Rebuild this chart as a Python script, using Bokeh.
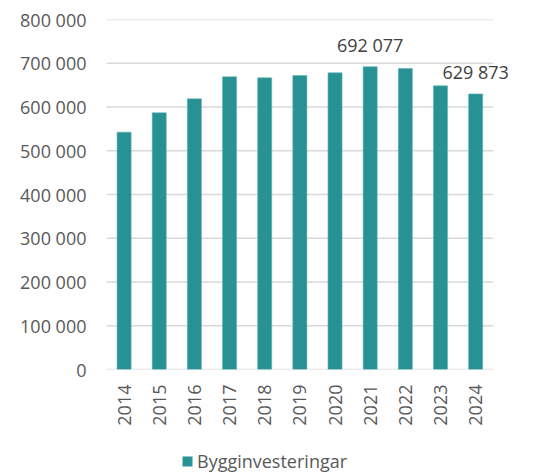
from bokeh.plotting import figure
from bokeh.layouts import column
from bokeh.models import (ColumnDataSource, Range1d, FixedTicker, Legend, LegendItem,
                          CustomJSTickFormatter, LabelSet)
from bokeh.core.properties import value
from bokeh.embed import file_html
from bokeh.resources import INLINE
import math

years = ["2014", "2015", "2016", "2017", "2018", "2019", "2020", "2021", "2022", "2023", "2024"]
values = [542400, 586700, 618700, 669000, 666700, 672000, 678100, 692077, 688000, 648400, 629873]
label_years = ["2021", "2024"]
label_texts = ["692 077", "629 873"]
series_name = "Bygginvesteringar"
y_ticks = [0, 100000, 200000, 300000, 400000, 500000, 600000, 700000, 800000]

FONT = "Open Sans"
BAR = "#289193"
BAR_EDGE = "#5fb3b5"
GRID = "#d9d9d9"
TXT = "#595959"

n = len(years)
xs = list(range(n))
# frame extends past the last category so the right-hand data label is not clipped
p = figure(x_range=Range1d(-0.5, n + 0.56), y_range=Range1d(0, 800000), width=536, height=438,
           output_backend="svg", toolbar_location=None,
           min_border_left=106, min_border_right=6, min_border_top=19, min_border_bottom=69)
p.outline_line_color = None
p.xgrid.grid_line_color = None
p.ygrid.grid_line_color = None

# horizontal gridlines across the category span only
p.segment(x0=[-0.5] * len(y_ticks), x1=[n - 0.5] * len(y_ticks), y0=y_ticks, y1=y_ticks,
          line_color=GRID, line_width=1.5)

src = ColumnDataSource(dict(x=xs, top=values))
p.vbar(x="x", top="top", width=0.4, source=src, fill_color=BAR, line_color=BAR_EDGE, line_width=0.6)

lsrc = ColumnDataSource(dict(x=[years.index(y) for y in label_years],
                             y=[values[years.index(y)] for y in label_years], t=label_texts))
labels = LabelSet(x="x", y="y", text="t", source=lsrc, text_align="center", text_baseline="middle",
                  y_offset=21.5, text_font=value(FONT), text_font_size=value("18px"),
                  text_color="#404040")
p.add_layout(labels)

p.yaxis.ticker = FixedTicker(ticks=y_ticks)
p.yaxis.formatter = CustomJSTickFormatter(code="return tick.toLocaleString('en-US').replace(/,/g, ' ');")
p.yaxis.axis_line_color = None
p.yaxis.major_tick_line_color = None
p.yaxis.minor_tick_line_color = None
p.yaxis.major_label_standoff = 14
p.yaxis.major_label_text_font = FONT
p.yaxis.major_label_text_font_size = "18px"
p.yaxis.major_label_text_color = TXT

p.xaxis.ticker = FixedTicker(ticks=xs)
p.xaxis.major_label_overrides = {i: y for i, y in zip(xs, years)}
p.xaxis.axis_line_color = None
p.xaxis.major_tick_line_color = None
p.xaxis.minor_tick_line_color = None
p.xaxis.major_label_orientation = math.pi / 2
p.xaxis.major_label_standoff = 9
p.xaxis.major_label_text_font = FONT
p.xaxis.major_label_text_font_size = "18px"
p.xaxis.major_label_text_color = TXT

# legend strip below the chart (its frame is aligned with the chart's frame by the column)
p2 = figure(x_range=Range1d(0, 1), y_range=Range1d(0, 1), width=536, height=35,
            output_backend="svg", toolbar_location=None, x_axis_type=None, y_axis_type=None,
            min_border_left=0, min_border_right=0, min_border_top=0, min_border_bottom=0)
p2.outline_line_color = None
p2.xgrid.grid_line_color = None
p2.ygrid.grid_line_color = None
lr = p2.vbar(x=xs, top=values, width=0.4, fill_color=BAR, line_color=BAR_EDGE, line_width=0.6,
             visible=False)
legend = Legend(items=[LegendItem(label=series_name, renderers=[lr])], orientation="horizontal",
                location=(75, 0), label_text_font=FONT, label_text_font_size="18px",
                label_text_color=TXT, border_line_color=None, glyph_width=12, glyph_height=12,
                label_standoff=4, padding=0, margin=0, background_fill_alpha=0)
p2.add_layout(legend)

open("out.html", "w").write(file_html(column(p, p2, spacing=0), INLINE))
